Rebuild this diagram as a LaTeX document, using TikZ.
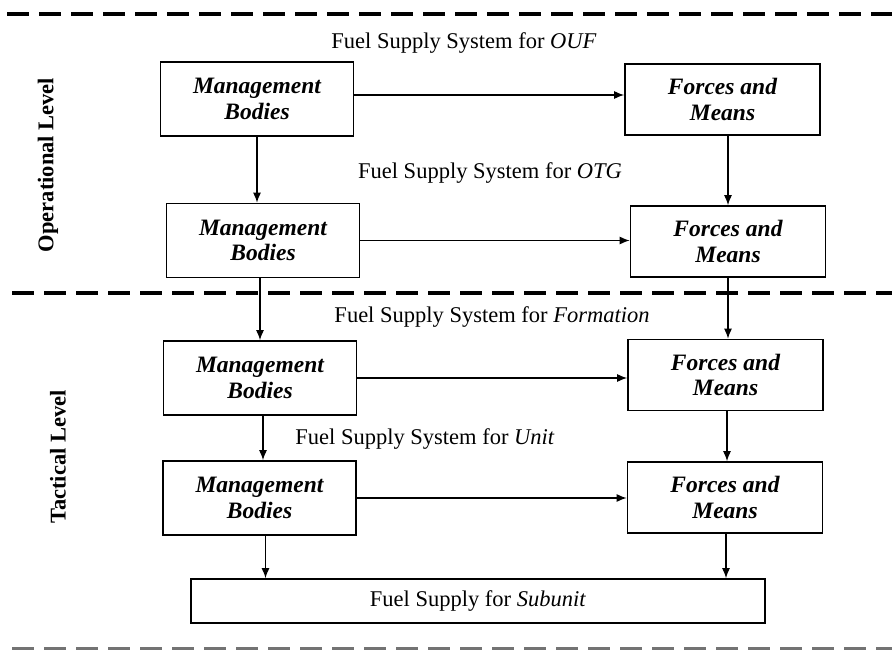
\documentclass[tikz,border=0pt]{standalone}
\usepackage{fontspec}
\setmainfont{Liberation Serif}
\usepackage{tikz}
\usetikzlibrary{arrows.meta}
\usetikzlibrary{positioning}
\tikzstyle{sysbox}=[draw=black, line width=1.7pt, inner sep=0pt, align=center,
    font=\fontsize{23.5}{25.5}\selectfont\bfseries\itshape]
\tikzstyle{mgmt}=[sysbox, minimum width=193pt, minimum height=74pt]
\tikzstyle{forces}=[sysbox, minimum width=195pt, minimum height=71pt]
\tikzstyle{syslabel}=[font=\fontsize{22.5}{26}\selectfont]
\tikzstyle{levellabel}=[rotate=90, font=\fontsize{22.5}{26}\selectfont\bfseries]
\tikzstyle{flow}=[line width=1.2pt, -{Latex[length=10pt,width=8pt]}]
\tikzstyle{sepline}=[line width=3.2pt, dash pattern=on 22pt off 10pt]

\begin{document}
\begin{tikzpicture}[x=1pt, y=-1pt]
\useasboundingbox (0,0) rectangle (892,650);
% level separators
\draw[sepline] (7,14) -- (892,14);
\draw[sepline] (12,293) -- (892,293);
\draw[sepline, black!55] (12,649) -- (892,649);
% level names
\node[levellabel] (oplevel) at (48,165) {Operational Level};
\node[levellabel] (taclevel) at (58,457) {Tactical Level};
% system names
\node[syslabel] (sysouf) at (464,43) {Fuel Supply System for \textit{OUF}};
\node[syslabel] (sysotg) at (490,173) {Fuel Supply System for \textit{OTG}};
\node[syslabel] (sysform) at (492,317) {Fuel Supply System for \textit{Formation}};
\node[syslabel] (sysunit) at (425,439) {Fuel Supply System for \textit{Unit}};
% boxes
\node[mgmt] (mb1) at (257,99) {Management\\Bodies};
\node[forces] (fm1) at (722.5,99.5) {Forces and\\Means};
\node[mgmt] (mb2) at (263,240.5) {Management\\Bodies};
\node[forces] (fm2) at (728,241.5) {Forces and\\Means};
\node[mgmt] (mb3) at (260,378) {Management\\Bodies};
\node[forces] (fm3) at (725.5,375) {Forces and\\Means};
\node[mgmt] (mb4) at (259.5,498) {Management\\Bodies};
\node[forces] (fm4) at (725,497.5) {Forces and\\Means};
\node[sysbox, minimum width=574pt, minimum height=44pt, font=\fontsize{22.5}{25}\selectfont] (sub) at (478,601) {Fuel Supply for \textit{Subunit}};
% horizontal links
\draw[flow] ([yshift=4pt]mb1.east) -- ([yshift=4pt]mb1.east -| fm1.west);
\draw[flow] (mb2.east) -- (mb2.east -| fm2.west);
\draw[flow] (mb3.east) -- (mb3.east -| fm3.west);
\draw[flow] (mb4.east) -- (mb4.east -| fm4.west);
% vertical links
\draw[flow] (mb1.south) -- (mb1.south |- mb2.north);
\draw[flow] (mb3.north |- mb2.south) -- (mb3.north);
\draw[flow] ([xshift=3pt]mb3.south) -- ([xshift=3pt]mb3.south |- mb4.north);
\draw[flow] ([xshift=6pt]mb4.south) -- ([xshift=6pt]mb4.south |- sub.north);
\draw[flow] ([xshift=5.5pt]fm1.south) -- ([xshift=5.5pt]fm1.south |- fm2.north);
\draw[flow] (fm2.south) -- (fm2.south |- fm3.north);
\draw[flow] ([xshift=1.5pt]fm3.south) -- ([xshift=1.5pt]fm3.south |- fm4.north);
\draw[flow] ([xshift=1pt]fm4.south) -- ([xshift=1pt]fm4.south |- sub.north);
\end{tikzpicture}
\end{document}
